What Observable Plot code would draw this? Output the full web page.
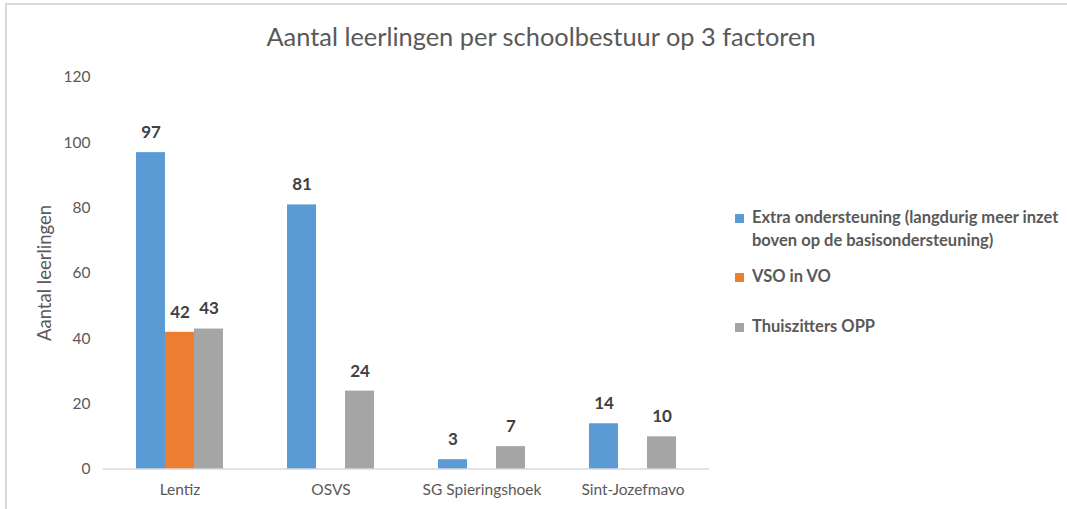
<!DOCTYPE html>
<html>
<head>
<meta charset="utf-8">
<script src="https://cdn.jsdelivr.net/npm/d3@7"></script>
<script src="https://cdn.jsdelivr.net/npm/@observablehq/plot@0.6"></script>
<style>
  html, body { margin: 0; padding: 0; background: #fff; }
  #wrap { position: relative; width: 1067px; height: 509px; overflow: hidden; font-family: Lato, "Open Sans", sans-serif; }
  #frame { position: absolute; left: 5px; top: 3px; right: 0; bottom: -5px; border-top: 2px solid #d9d9d9; border-left: 2px solid #d9d9d9; }
  #title { position: absolute; left: 0; width: 1082px; top: 21px; text-align: center; font-size: 25.4px; color: #595959; }
  #chart { position: absolute; left: 0; top: 60px; }
  #legend { position: absolute; left: 735px; top: 0; font-size: 16.5px; font-weight: bold; color: #595959; }
  .li { position: absolute; white-space: nowrap; line-height: 23px; }
  .sw { position: absolute; left: 0; width: 9px; height: 9px; }
  .tx { position: absolute; left: 17px; }
</style>
</head>
<body>
<div id="wrap">
  <div id="frame"></div>
  <div id="title"></div>
  <div id="chart"></div>
  <div id="legend"></div>
</div>
<script>
const title = "Aantal leerlingen per schoolbestuur op 3 factoren";
const yLabel = "Aantal leerlingen";
const categories = ["Lentiz", "OSVS", "SG Spieringshoek", "Sint-Jozefmavo"];
const seriesNames = ["Extra ondersteuning (langdurig meer inzet boven op de basisondersteuning)", "VSO in VO", "Thuiszitters OPP"];
const legendLines = [["Extra ondersteuning (langdurig meer inzet", "boven op de basisondersteuning)"], ["VSO in VO"], ["Thuiszitters OPP"]];
const seriesColors = ["#5B9BD5", "#ED7D31", "#A5A5A5"];
const extraOndersteuning = [97, 81, 3, 14];
const vsoInVo = [42, null, null, null];
const thuiszitters = [43, 24, 7, 10];
const yTicks = [0, 20, 40, 60, 80, 100, 120];

const seriesValues = [extraOndersteuning, vsoInVo, thuiszitters];
const data = [];
categories.forEach((c, i) => {
  seriesNames.forEach((s, j) => {
    const v = seriesValues[j][i];
    if (v != null) data.push({category: c, series: s, value: v});
  });
});

document.getElementById("title").textContent = title;

const W = 720, ML = 103, MR = 11;
const plot = Plot.plot({
  width: W,
  height: 449,
  marginLeft: ML,
  marginRight: MR,
  marginTop: 17,
  marginBottom: 40,
  style: {fontFamily: "Lato, 'Open Sans', sans-serif", color: "#595959", background: "transparent"},
  fx: {domain: categories, paddingInner: 0.426, paddingOuter: 0.213, label: null},
  x: {domain: seriesNames, padding: 0, axis: null},
  y: {domain: [0, 120], ticks: yTicks, label: null},
  color: {domain: seriesNames, range: seriesColors},
  marks: [
    Plot.axisY({ticks: yTicks, tickSize: 0, tickPadding: 46, fontSize: 15.5, fill: "#595959", label: null}),
    Plot.axisFx({anchor: "bottom", tickSize: 0, tickPadding: 14, fontSize: 15.5, fill: "#595959", label: null}),
    Plot.barY(data, {fx: "category", x: "series", y: "value", fill: "series"}),
    Plot.text(data, {fx: "category", x: "series", y: "value", text: d => String(d.value), dy: -20, fontSize: 17, fontWeight: "bold", fill: "#404040"})
  ]
});
document.getElementById("chart").appendChild(plot);

const svg = d3.select(plot);
// baseline across all groups at y = 0, from the plot's own y scale
const y0 = plot.scale("y").apply(0);
svg.append("line")
  .attr("x1", ML).attr("x2", W - MR)
  .attr("y1", y0).attr("y2", y0)
  .attr("stroke", "#d9d9d9").attr("stroke-width", 1.5);

// y-axis title as real text
svg.append("text")
  .attr("transform", "translate(51, 213) rotate(-90)")
  .attr("text-anchor", "middle")
  .attr("font-size", 18.5)
  .attr("fill", "#595959")
  .attr("font-family", "Lato, 'Open Sans', sans-serif")
  .text(yLabel);

// legend
const legend = document.getElementById("legend");
const legendTops = [206, 265, 315];
legendLines.forEach((lines, i) => {
  const li = document.createElement("div");
  li.className = "li";
  li.style.top = legendTops[i] + "px";
  const sw = document.createElement("div");
  sw.className = "sw";
  sw.style.background = seriesColors[i];
  sw.style.top = "8px";
  li.appendChild(sw);
  const tx = document.createElement("div");
  tx.className = "tx";
  tx.innerHTML = lines.map(l => l.replace(/&/g, "&amp;").replace(/</g, "&lt;")).join("<br>");
  li.appendChild(tx);
  legend.appendChild(li);
});
</script>
</body>
</html>
